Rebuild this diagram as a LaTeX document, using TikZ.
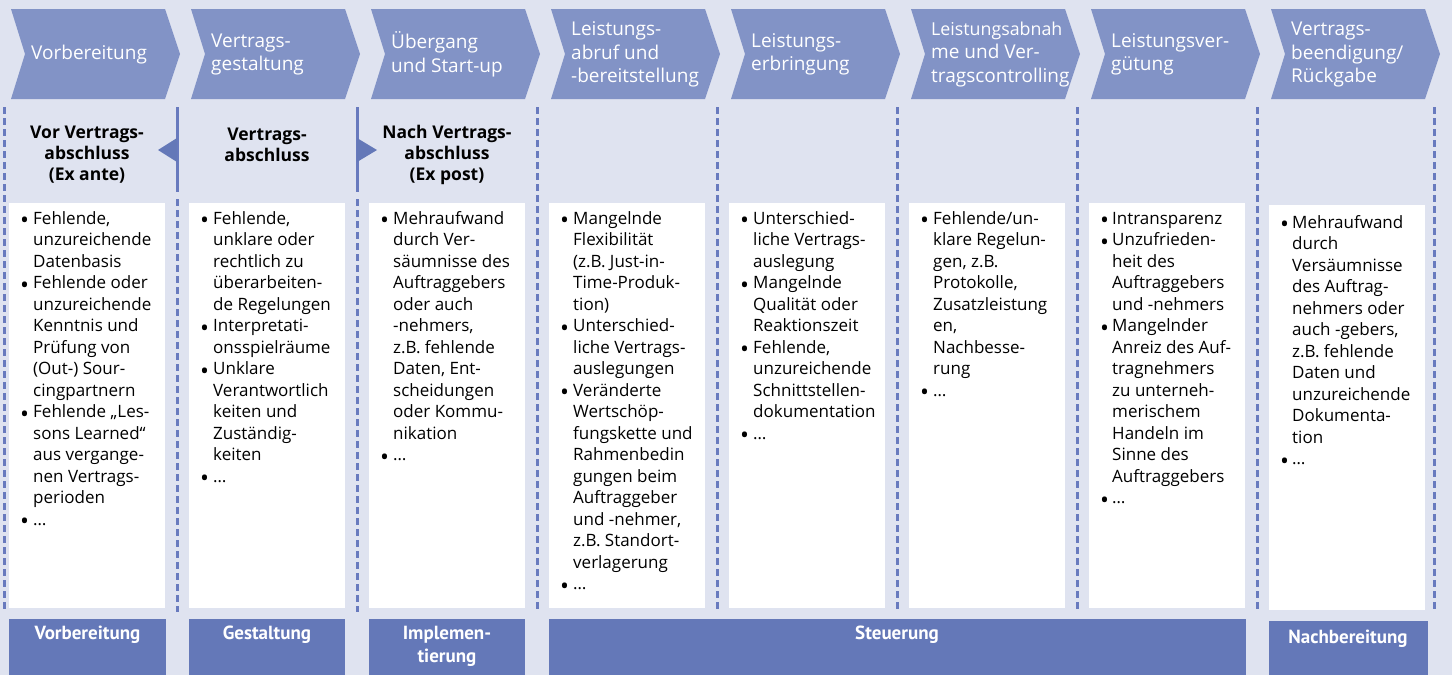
\documentclass[tikz,border=0pt]{standalone}
\usepackage{fontspec}
\setmainfont{Open Sans}
\newfontfamily\barfont{PT Sans}
\usepackage{array}
\definecolor{bgc}{RGB}{223,227,240}
\definecolor{chev}{RGB}{130,147,198}
\definecolor{barc}{RGB}{100,120,184}
\definecolor{linec}{RGB}{104,122,190}
\tikzset{
  chevtext/.style={anchor=west,align=left,text=white,inner sep=0,font=\fontsize{19}{23.5}\selectfont},
  headtext/.style={align=center,inner sep=0,font=\fontsize{17.5}{21}\selectfont\bfseries},
  body/.style={anchor=north west,inner sep=0,font=\fontsize{17}{21.5}\selectfont},
  bartext/.style={anchor=north,align=center,inner sep=0,text=white,font=\fontsize{19}{23}\selectfont\barfont\bfseries},
  dline/.style={draw=linec,line width=3pt,dash pattern=on 7pt off 4pt},
  sline/.style={draw=linec,line width=3pt},
  barbox/.style={fill=barc},
  wbox/.style={fill=white}
}
\newcommand\Bu{\raisebox{-0.27em}[0pt][0pt]{\scalebox{1.4}{\textbullet}}}
\begin{document}
\begin{tikzpicture}[x=1pt,y=-1pt]
\useasboundingbox (0,0) rectangle (1456,675);
\fill[bgc] (0,0) rectangle (1452,675);
% chevrons
\foreach \i/\txt in {0/{Vorbereitung},1/{Vertrags-\\gestaltung},2/{Übergang\\und Start-up},3/{Leistungs-\\abruf und\\-bereitstellung},4/{Leistungs-\\erbringung},5/{\fontsize{17.8}{23.5}\selectfont Leistungsabnah\\me und Ver-\\tragscontrolling},6/{Leistungsver-\\gütung},7/{Vertrags-\\beendigung/\\Rückgabe}}{
  \pgfmathsetmacro\L{11+180*\i}
  \fill[chev] (\L,9) -- ++(154,0) -- ++(15,45) -- ++(-15,45) -- ++(-154,0) -- ++(14,-45) -- cycle;
  \node[chevtext] (chev\i) at (\L+20,54.5) {\txt};
}
% vertical lines
\draw[dline] (4,107) -- (4,612);
\draw[sline] (177,107) -- (177,192);
\draw[dline] (177,199) -- (177,612);
\draw[sline] (357,107) -- (357,192);
\draw[dline] (357,199) -- (357,612);
\foreach \x in {537,717,897,1077,1257,1434}{
  \draw[dline] (\x,107) -- (\x,612);
}
% arrows
\fill[barc] (177,138) -- (158,150) -- (177,162) -- cycle;
\fill[barc] (357,138) -- (377,150) -- (357,162) -- cycle;
% headers
\node[headtext] (h1) at (87,155) {Vor Vertrags-\\abschluss\\(Ex ante)};
\node[headtext] (h2) at (267,145) {Vertrags-\\abschluss};
\node[headtext] (h3) at (447,155) {Nach Vertrags-\\abschluss\\(Ex post)};
% white boxes
\foreach \i in {0,...,6}{
  \pgfmathsetmacro\L{9+180*\i}
  \fill[wbox] (\L,203) rectangle ++(156,405);
}
\fill[wbox] (1269,205) rectangle (1425,610);
% body texts
\node[body] (b1) at (20,209) {\begin{tabular}{@{}p{13pt}@{}l@{}}
\Bu & Fehlende,\\ & unzureichende\\ & Datenbasis\\
\Bu & Fehlende oder\\ & unzureichende\\ & Kenntnis und\\ & Prüfung von\\ & (Out-) Sour-\\ & cingpartnern\\
\Bu & Fehlende „Les-\\ & sons Learned“\\ & aus vergange-\\ & nen Vertrags-\\ & perioden\\
\Bu & \ldots
\end{tabular}};
\node[body] (b2) at (200,209) {\begin{tabular}{@{}p{13pt}@{}l@{}}
\Bu & Fehlende,\\ & unklare oder\\ & rechtlich zu\\ & überarbeiten-\\ & de Regelungen\\
\Bu & Interpretati-\\ & onsspielräume\\
\Bu & Unklare\\ & Verantwortlich\\ & keiten und\\ & Zuständig-\\ & keiten\\
\Bu & \ldots
\end{tabular}};
\node[body] (b3) at (380,209) {\begin{tabular}{@{}p{13pt}@{}l@{}}
\Bu & Mehraufwand\\ & durch Ver-\\ & säumnisse des\\ & Auftraggebers\\ & oder auch\\ & -nehmers,\\ & z.B. fehlende\\ & Daten, Ent-\\ & scheidungen\\ & oder Kommu-\\ & nikation\\
\Bu & \ldots
\end{tabular}};
\node[body] (b4) at (560,209) {\begin{tabular}{@{}p{13pt}@{}l@{}}
\Bu & Mangelnde\\ & Flexibilität\\ & (z.B. Just-in-\\ & Time-Produk-\\ & tion)\\
\Bu & Unterschied-\\ & liche Vertrags-\\ & auslegungen\\
\Bu & Veränderte\\ & Wertschöp-\\ & fungskette und\\ & Rahmenbedin\\ & gungen beim\\ & Auftraggeber\\ & und -nehmer,\\ & z.B. Standort-\\ & verlagerung\\
\Bu & \ldots
\end{tabular}};
\node[body] (b5) at (740,209) {\begin{tabular}{@{}p{13pt}@{}l@{}}
\Bu & Unterschied-\\ & liche Vertrags-\\ & auslegung\\
\Bu & Mangelnde\\ & Qualität oder\\ & Reaktionszeit\\
\Bu & Fehlende,\\ & unzureichende\\ & Schnittstellen-\\ & dokumentation\\
\Bu & \ldots
\end{tabular}};
\node[body] (b6) at (920,209) {\begin{tabular}{@{}p{13pt}@{}l@{}}
\Bu & Fehlende/un-\\ & klare Regelun-\\ & gen, z.B.\\ & Protokolle,\\ & Zusatzleistung\\ & en,\\ & Nachbesse-\\ & rung\\
\Bu & \ldots
\end{tabular}};
\node[body] (b7) at (1100,209) {\begin{tabular}{@{}p{12pt}@{}l@{}}
\Bu & Intransparenz\\
\Bu & Unzufrieden-\\ & heit des\\ & Auftraggebers\\ & und -nehmers\\
\Bu & Mangelnder\\ & Anreiz des Auf-\\ & tragnehmers\\ & zu unterneh-\\ & merischem\\ & Handeln im\\ & Sinne des\\ & Auftraggebers\\
\Bu & \ldots
\end{tabular}};
\node[body] (b8) at (1280,213) {\begin{tabular}{@{}p{12pt}@{}l@{}}
\Bu & Mehraufwand\\ & durch\\ & Versäumnisse\\ & des Auftrag-\\ & nehmers oder\\ & auch -gebers,\\ & z.B. fehlende\\ & Daten und\\ & unzureichende\\ & Dokumenta-\\ & tion\\
\Bu & \ldots
\end{tabular}};
% bottom bars
\fill[barbox] (9,619) rectangle (166,675);
\fill[barbox] (189,619) rectangle (345,675);
\fill[barbox] (369,619) rectangle (525,675);
\fill[barbox] (549,619) rectangle (1246,675);
\fill[barbox] (1269,621) rectangle (1428,675);
\node[bartext] (p1) at (87.5,625.5) {Vorbereitung};
\node[bartext] (p2) at (267,625.5) {Gestaltung};
\node[bartext] (p3) at (447,625.5) {Implemen-\\tierung};
\node[bartext] (p4) at (897,625.5) {Steuerung};
\node[bartext] (p5) at (1348,629.5) {Nachbereitung};
\end{tikzpicture}
\end{document}
